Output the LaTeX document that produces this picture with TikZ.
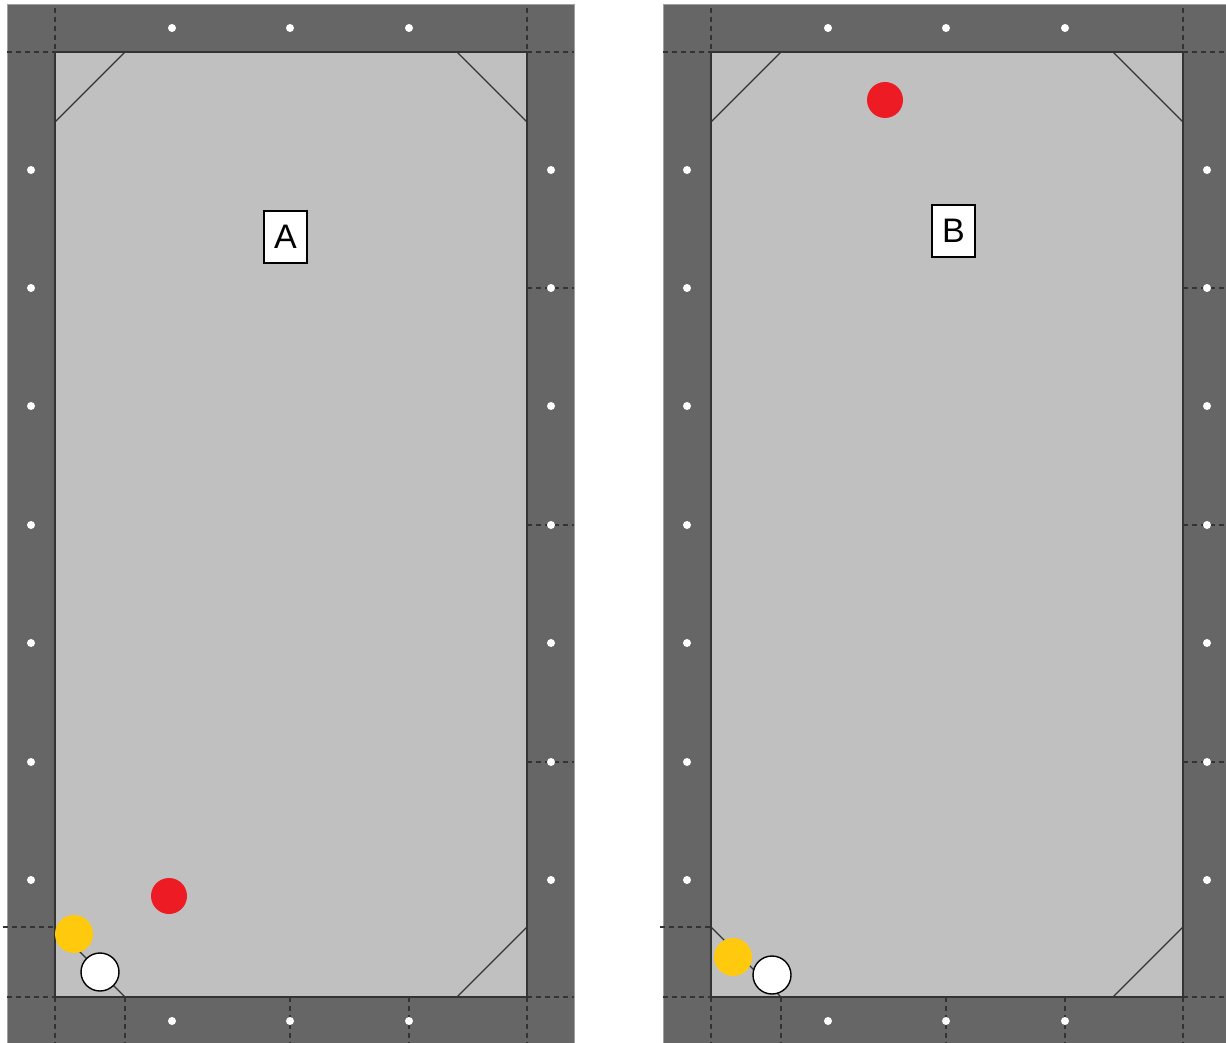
\documentclass[tikz,border=0pt]{standalone}
\usepackage{fontspec}
\setmainfont{Liberation Sans}
\usepackage{tikz}
\usepackage{xcolor}
\definecolor{railgrey}{HTML}{666666}
\definecolor{feltgrey}{HTML}{C0C0C0}
\definecolor{edgegrey}{HTML}{333333}
\definecolor{bordergrey}{HTML}{A0A0A0}
\definecolor{ballred}{HTML}{ED1C24}
\definecolor{ballyellow}{HTML}{FFC90E}

\begin{document}
\begin{tikzpicture}[x=1pt, y=-1pt,
  rail/.style={fill=railgrey, draw=bordergrey, line width=1pt},
  felt/.style={fill=feltgrey, draw=edgegrey, line width=1.6pt},
  diam/.style={fill=white},
  cut/.style={draw=edgegrey, line width=1.3pt},
  guide/.style={draw=edgegrey, line width=1.5pt, dash pattern=on 5pt off 4pt},
  labelbox/.style={draw, fill=white, line width=1.4pt, minimum width=43pt, minimum height=52pt, inner sep=0pt, font=\fontsize{34}{36}\selectfont}]
\useasboundingbox (0,0) rectangle (1226,1043);
\clip (0,0) rectangle (1226,1043);
% ---- Tavolo A ----
\draw[rail] (7,5) rectangle (574,1060);
\draw[felt] (55,52) rectangle (527,997);
% Tagli agli angoli
\draw[cut] (55,122) -- (125,52);
\draw[cut] (457,52) -- (527,122);
\draw[cut] (457,997) -- (527,927);
\draw[cut] (55,927) -- (125,997);
% Tratteggi
\draw[guide] (55,8) -- (55,52); \draw[guide] (7,52) -- (55,52);
\draw[guide] (527,8) -- (527,52); \draw[guide] (527,52) -- (574,52);
\draw[guide] (3,927) -- (55,927);
\draw[guide] (7,997) -- (55,997); \draw[guide] (55,997) -- (55,1043);
\draw[guide] (125,997) -- (125,1043);
\draw[guide] (290,997) -- (290,1043); \draw[guide] (409,997) -- (409,1043);
\draw[guide] (527,997) -- (574,997); \draw[guide] (527,997) -- (527,1043);
\draw[guide] (527,288) -- (574,288); \draw[guide] (527,525) -- (574,525); \draw[guide] (527,762) -- (574,762);
% Diamanti
\fill[diam] (172,28) circle (4pt); \fill[diam] (290,28) circle (4pt); \fill[diam] (409,28) circle (4pt);
\fill[diam] (172,1021) circle (4pt); \fill[diam] (290,1021) circle (4pt); \fill[diam] (409,1021) circle (4pt);
\fill[diam] (31,170) circle (4pt); \fill[diam] (31,288) circle (4pt); \fill[diam] (31,406) circle (4pt); \fill[diam] (31,525) circle (4pt);
\fill[diam] (31,643) circle (4pt); \fill[diam] (31,762) circle (4pt); \fill[diam] (31,880) circle (4pt);
\fill[diam] (551,170) circle (4pt); \fill[diam] (551,288) circle (4pt); \fill[diam] (551,406) circle (4pt); \fill[diam] (551,525) circle (4pt);
\fill[diam] (551,643) circle (4pt); \fill[diam] (551,762) circle (4pt); \fill[diam] (551,880) circle (4pt);
% Biglie
\fill[ballred] (169,896) circle (18pt);
\fill[ballyellow] (74,934) circle (19pt);
\draw[fill=white, line width=1.4pt] (100,972) circle (19pt);
% Etichetta
\node[labelbox] (labelA) at (285.5,237) {A};
% ---- Tavolo B ----
\draw[rail] (663,5) rectangle (1240,1060);
\draw[felt] (711,52) rectangle (1183,997);
% Tagli agli angoli
\draw[cut] (711,122) -- (781,52);
\draw[cut] (1113,52) -- (1183,122);
\draw[cut] (1113,997) -- (1183,927);
\draw[cut] (711,927) -- (781,997);
% Tratteggi
\draw[guide] (711,8) -- (711,52); \draw[guide] (663,52) -- (711,52);
\draw[guide] (1183,8) -- (1183,52); \draw[guide] (1183,52) -- (1230,52);
\draw[guide] (660,927) -- (711,927);
\draw[guide] (663,997) -- (711,997); \draw[guide] (711,997) -- (711,1043);
\draw[guide] (781,997) -- (781,1043);
\draw[guide] (946,997) -- (946,1043); \draw[guide] (1065,997) -- (1065,1043);
\draw[guide] (1183,997) -- (1230,997); \draw[guide] (1183,997) -- (1183,1043);
\draw[guide] (1183,288) -- (1230,288); \draw[guide] (1183,525) -- (1230,525); \draw[guide] (1183,762) -- (1230,762);
% Diamanti
\fill[diam] (828,28) circle (4pt); \fill[diam] (946,28) circle (4pt); \fill[diam] (1065,28) circle (4pt);
\fill[diam] (828,1021) circle (4pt); \fill[diam] (946,1021) circle (4pt); \fill[diam] (1065,1021) circle (4pt);
\fill[diam] (687,170) circle (4pt); \fill[diam] (687,288) circle (4pt); \fill[diam] (687,406) circle (4pt); \fill[diam] (687,525) circle (4pt);
\fill[diam] (687,643) circle (4pt); \fill[diam] (687,762) circle (4pt); \fill[diam] (687,880) circle (4pt);
\fill[diam] (1207,170) circle (4pt); \fill[diam] (1207,288) circle (4pt); \fill[diam] (1207,406) circle (4pt); \fill[diam] (1207,525) circle (4pt);
\fill[diam] (1207,643) circle (4pt); \fill[diam] (1207,762) circle (4pt); \fill[diam] (1207,880) circle (4pt);
% Biglie
\fill[ballred] (885,100) circle (18pt);
\fill[ballyellow] (733,957) circle (19pt);
\draw[fill=white, line width=1.4pt] (772,975) circle (19pt);
% Etichetta
\node[labelbox] (labelB) at (953.5,231) {B};
\end{tikzpicture}
\end{document}
